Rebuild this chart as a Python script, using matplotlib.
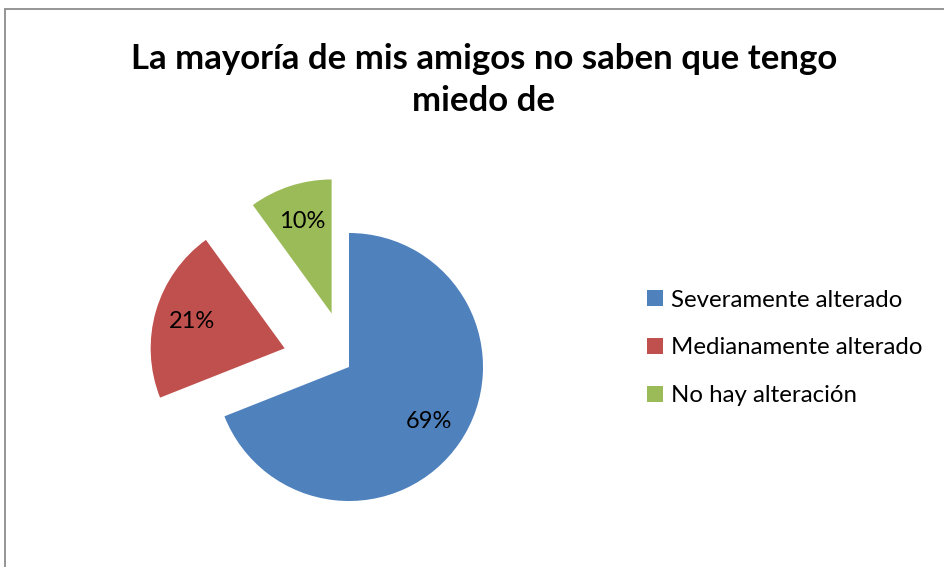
import matplotlib

matplotlib.use("Agg")
import matplotlib.pyplot as plt
from matplotlib.patches import Rectangle

CATEGORIES = ["Severamente alterado", "Medianamente alterado", "No hay alteración"]
VALUES = [69, 21, 10]
COLORS = ["#4F81BD", "#C0504D", "#9BBB59"]
EXPLODE = [0.0, 0.5, 0.42]
TITLE = "La mayoría de mis amigos no saben que tengo\nmiedo de"

W, H = 945, 567
plt.rcParams["font.family"] = ["Lato", "DejaVu Sans"]

fig = plt.figure(figsize=(W / 100, H / 100), dpi=100)

# chart border (only top and left are visible in the crop)
fig.patches.append(Rectangle((5 / W, -0.1), 1.2, (H - 9) / H + 0.1, transform=fig.transFigure,
                             fill=False, edgecolor="#8c8c8c", linewidth=1.3))

# pie axes: centre (349, 367) px, radius 134 px -> 2 data units = 268 px
cx, cy, half = 349, 367, 268
ax = fig.add_axes([(cx - half) / W, (H - cy - half) / H, 2 * half / W, 2 * half / H])
wedges, texts, autotexts = ax.pie(
    VALUES,
    colors=COLORS,
    explode=EXPLODE,
    startangle=90,
    counterclock=False,
    autopct="%1.0f%%",
    pctdistance=0.72,
    textprops={"fontsize": 17, "color": "black"},
)
ax.set_xlim(-2, 2)
ax.set_ylim(-2, 2)
ax.axis("off")

fig.text(484 / W, 1 - 80 / H, TITLE, ha="center", va="center", fontsize=25,
         fontweight="bold", linespacing=1.38)

fig.legend(wedges, CATEGORIES, loc="center left", bbox_to_anchor=(637 / W, 1 - 348 / H),
           frameon=False, fontsize=17.3, handlelength=0.68, handleheight=0.68,
           handletextpad=0.33, labelspacing=1.12, borderaxespad=0)

fig.savefig("out.png", dpi=100)
